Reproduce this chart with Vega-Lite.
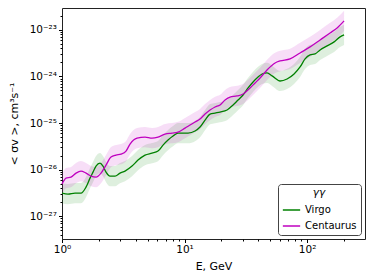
{
  "$schema": "https://vega.github.io/schema/vega-lite/v6.json",
  "width": 303,
  "height": 231,
  "autosize": {"type": "none"},
  "padding": {"left": 62, "top": 8, "right": 9, "bottom": 41},
  "background": "white",
  "config": {
    "font": "DejaVu Sans",
    "view": {"stroke": "#222", "strokeWidth": 1},
    "axis": {
      "grid": false,
      "domain": false,
      "tickColor": "#000",
      "labelColor": "#000",
      "titleColor": "#000",
      "labelFontSize": 10.5,
      "titleFontSize": 11,
      "titleFontWeight": "normal",
      "labelPadding": 2,
      "labelOverlap": false,
      "labelFlush": false
    }
  },
  "data": {
    "values": [
      {"src": "Virgo", "E": 1.000, "s": 3.12e-27, "lo": 1.89e-27, "hi": 5.15e-27},
      {"src": "Virgo", "E": 1.119, "s": 2.97e-27, "lo": 1.80e-27, "hi": 4.90e-27},
      {"src": "Virgo", "E": 1.277, "s": 3.12e-27, "lo": 1.89e-27, "hi": 5.15e-27},
      {"src": "Virgo", "E": 1.429, "s": 3.12e-27, "lo": 1.89e-27, "hi": 5.15e-27},
      {"src": "Virgo", "E": 1.570, "s": 4.21e-27, "lo": 2.55e-27, "hi": 6.95e-27},
      {"src": "Virgo", "E": 1.693, "s": 6.56e-27, "lo": 3.98e-27, "hi": 1.08e-26},
      {"src": "Virgo", "E": 1.791, "s": 8.84e-27, "lo": 5.36e-27, "hi": 1.46e-26},
      {"src": "Virgo", "E": 1.895, "s": 1.19e-26, "lo": 7.21e-27, "hi": 1.96e-26},
      {"src": "Virgo", "E": 2.043, "s": 1.38e-26, "lo": 8.36e-27, "hi": 2.28e-26},
      {"src": "Virgo", "E": 2.161, "s": 1.19e-26, "lo": 7.21e-27, "hi": 1.96e-26},
      {"src": "Virgo", "E": 2.287, "s": 8.84e-27, "lo": 5.36e-27, "hi": 1.46e-26},
      {"src": "Virgo", "E": 2.465, "s": 7.25e-27, "lo": 4.39e-27, "hi": 1.20e-26},
      {"src": "Virgo", "E": 2.708, "s": 7.25e-27, "lo": 4.39e-27, "hi": 1.20e-26},
      {"src": "Virgo", "E": 2.975, "s": 8.41e-27, "lo": 5.10e-27, "hi": 1.39e-26},
      {"src": "Virgo", "E": 3.268, "s": 9.29e-27, "lo": 5.63e-27, "hi": 1.53e-26},
      {"src": "Virgo", "E": 3.728, "s": 1.19e-26, "lo": 7.21e-27, "hi": 1.96e-26},
      {"src": "Virgo", "E": 4.173, "s": 1.60e-26, "lo": 9.70e-27, "hi": 2.64e-26},
      {"src": "Virgo", "E": 4.761, "s": 2.05e-26, "lo": 1.24e-26, "hi": 3.38e-26},
      {"src": "Virgo", "E": 5.428, "s": 2.26e-26, "lo": 1.37e-26, "hi": 3.73e-26},
      {"src": "Virgo", "E": 6.076, "s": 2.50e-26, "lo": 1.52e-26, "hi": 4.13e-26},
      {"src": "Virgo", "E": 6.676, "s": 3.36e-26, "lo": 2.04e-26, "hi": 5.54e-26},
      {"src": "Virgo", "E": 7.334, "s": 4.31e-26, "lo": 2.61e-26, "hi": 7.11e-26},
      {"src": "Virgo", "E": 8.056, "s": 5.25e-26, "lo": 3.18e-26, "hi": 8.66e-26},
      {"src": "Virgo", "E": 8.851, "s": 6.09e-26, "lo": 3.69e-26, "hi": 1.00e-25},
      {"src": "Virgo", "E": 9.723, "s": 6.09e-26, "lo": 3.69e-26, "hi": 1.00e-25},
      {"src": "Virgo", "E": 10.68, "s": 6.09e-26, "lo": 3.69e-26, "hi": 1.00e-25},
      {"src": "Virgo", "E": 12.18, "s": 6.73e-26, "lo": 4.08e-26, "hi": 1.11e-25},
      {"src": "Virgo", "E": 13.38, "s": 8.20e-26, "lo": 4.97e-26, "hi": 1.35e-25},
      {"src": "Virgo", "E": 14.70, "s": 1.16e-25, "lo": 7.03e-26, "hi": 1.91e-25},
      {"src": "Virgo", "E": 16.15, "s": 1.56e-25, "lo": 9.45e-26, "hi": 2.57e-25},
      {"src": "Virgo", "E": 17.74, "s": 1.64e-25, "lo": 9.94e-26, "hi": 2.71e-25},
      {"src": "Virgo", "E": 19.49, "s": 1.72e-25, "lo": 1.04e-25, "hi": 2.84e-25},
      {"src": "Virgo", "E": 22.23, "s": 1.90e-25, "lo": 1.15e-25, "hi": 3.14e-25},
      {"src": "Virgo", "E": 24.88, "s": 2.44e-25, "lo": 1.48e-25, "hi": 4.03e-25},
      {"src": "Virgo", "E": 27.34, "s": 3.12e-25, "lo": 1.89e-25, "hi": 5.15e-25},
      {"src": "Virgo", "E": 30.03, "s": 4.00e-25, "lo": 2.42e-25, "hi": 6.60e-25},
      {"src": "Virgo", "E": 33.00, "s": 5.66e-25, "lo": 3.43e-25, "hi": 9.34e-25},
      {"src": "Virgo", "E": 36.24, "s": 7.62e-25, "lo": 4.62e-25, "hi": 1.26e-24},
      {"src": "Virgo", "E": 39.81, "s": 9.76e-25, "lo": 5.92e-25, "hi": 1.61e-24},
      {"src": "Virgo", "E": 42.93, "s": 1.13e-24, "lo": 6.85e-25, "hi": 1.86e-24},
      {"src": "Virgo", "E": 47.16, "s": 1.19e-24, "lo": 7.21e-25, "hi": 1.96e-24},
      {"src": "Virgo", "E": 51.81, "s": 1.03e-24, "lo": 6.24e-25, "hi": 1.70e-24},
      {"src": "Virgo", "E": 60.22, "s": 8.00e-25, "lo": 4.85e-25, "hi": 1.32e-24},
      {"src": "Virgo", "E": 68.66, "s": 8.84e-25, "lo": 5.36e-25, "hi": 1.46e-24},
      {"src": "Virgo", "E": 78.31, "s": 1.13e-24, "lo": 6.85e-25, "hi": 1.86e-24},
      {"src": "Virgo", "E": 87.69, "s": 1.60e-24, "lo": 9.70e-25, "hi": 2.64e-24},
      {"src": "Virgo", "E": 96.32, "s": 2.38e-24, "lo": 1.44e-24, "hi": 3.93e-24},
      {"src": "Virgo", "E": 105.8, "s": 2.90e-24, "lo": 1.76e-24, "hi": 4.79e-24},
      {"src": "Virgo", "E": 116.3, "s": 3.05e-24, "lo": 1.85e-24, "hi": 5.03e-24},
      {"src": "Virgo", "E": 127.7, "s": 3.71e-24, "lo": 2.25e-24, "hi": 6.12e-24},
      {"src": "Virgo", "E": 145.7, "s": 4.53e-24, "lo": 2.75e-24, "hi": 7.47e-24},
      {"src": "Virgo", "E": 166.2, "s": 5.52e-24, "lo": 3.35e-24, "hi": 9.11e-24},
      {"src": "Virgo", "E": 186.0, "s": 7.07e-24, "lo": 4.28e-24, "hi": 1.17e-23},
      {"src": "Virgo", "E": 200.5, "s": 7.80e-24, "lo": 4.73e-24, "hi": 1.29e-23},
      {"src": "Centaurus", "E": 1.000, "s": 4.88e-27, "lo": 2.96e-27, "hi": 8.05e-27},
      {"src": "Centaurus", "E": 1.078, "s": 6.56e-27, "lo": 3.98e-27, "hi": 1.08e-26},
      {"src": "Centaurus", "E": 1.184, "s": 6.90e-27, "lo": 4.18e-27, "hi": 1.14e-26},
      {"src": "Centaurus", "E": 1.301, "s": 8.41e-27, "lo": 5.10e-27, "hi": 1.39e-26},
      {"src": "Centaurus", "E": 1.429, "s": 9.29e-27, "lo": 5.63e-27, "hi": 1.53e-26},
      {"src": "Centaurus", "E": 1.570, "s": 8.41e-27, "lo": 5.10e-27, "hi": 1.39e-26},
      {"src": "Centaurus", "E": 1.725, "s": 7.25e-27, "lo": 4.39e-27, "hi": 1.20e-26},
      {"src": "Centaurus", "E": 1.895, "s": 6.90e-27, "lo": 4.18e-27, "hi": 1.14e-26},
      {"src": "Centaurus", "E": 2.082, "s": 8.41e-27, "lo": 5.10e-27, "hi": 1.39e-26},
      {"src": "Centaurus", "E": 2.287, "s": 1.25e-26, "lo": 7.58e-27, "hi": 2.06e-26},
      {"src": "Centaurus", "E": 2.512, "s": 1.86e-26, "lo": 1.13e-26, "hi": 3.07e-26},
      {"src": "Centaurus", "E": 2.760, "s": 2.05e-26, "lo": 1.24e-26, "hi": 3.38e-26},
      {"src": "Centaurus", "E": 3.031, "s": 2.15e-26, "lo": 1.30e-26, "hi": 3.55e-26},
      {"src": "Centaurus", "E": 3.330, "s": 2.50e-26, "lo": 1.52e-26, "hi": 4.13e-26},
      {"src": "Centaurus", "E": 3.591, "s": 3.53e-26, "lo": 2.14e-26, "hi": 5.82e-26},
      {"src": "Centaurus", "E": 4.096, "s": 4.75e-26, "lo": 2.88e-26, "hi": 7.84e-26},
      {"src": "Centaurus", "E": 4.761, "s": 5.00e-26, "lo": 3.03e-26, "hi": 8.25e-26},
      {"src": "Centaurus", "E": 5.428, "s": 4.75e-26, "lo": 2.88e-26, "hi": 7.84e-26},
      {"src": "Centaurus", "E": 6.076, "s": 5.00e-26, "lo": 3.03e-26, "hi": 8.25e-26},
      {"src": "Centaurus", "E": 6.932, "s": 5.80e-26, "lo": 3.52e-26, "hi": 9.57e-26},
      {"src": "Centaurus", "E": 7.907, "s": 6.09e-26, "lo": 3.69e-26, "hi": 1.00e-25},
      {"src": "Centaurus", "E": 8.851, "s": 6.40e-26, "lo": 3.88e-26, "hi": 1.06e-25},
      {"src": "Centaurus", "E": 10.09, "s": 7.80e-26, "lo": 4.73e-26, "hi": 1.29e-25},
      {"src": "Centaurus", "E": 11.09, "s": 9.06e-26, "lo": 5.49e-26, "hi": 1.49e-25},
      {"src": "Centaurus", "E": 12.18, "s": 1.05e-25, "lo": 6.36e-26, "hi": 1.73e-25},
      {"src": "Centaurus", "E": 13.38, "s": 1.22e-25, "lo": 7.39e-26, "hi": 2.01e-25},
      {"src": "Centaurus", "E": 14.70, "s": 1.56e-25, "lo": 9.45e-26, "hi": 2.57e-25},
      {"src": "Centaurus", "E": 16.15, "s": 1.90e-25, "lo": 1.15e-25, "hi": 3.14e-25},
      {"src": "Centaurus", "E": 17.74, "s": 2.21e-25, "lo": 1.34e-25, "hi": 3.65e-25},
      {"src": "Centaurus", "E": 19.49, "s": 2.44e-25, "lo": 1.48e-25, "hi": 4.03e-25},
      {"src": "Centaurus", "E": 21.41, "s": 3.12e-25, "lo": 1.89e-25, "hi": 5.15e-25},
      {"src": "Centaurus", "E": 23.52, "s": 3.62e-25, "lo": 2.19e-25, "hi": 5.97e-25},
      {"src": "Centaurus", "E": 26.83, "s": 3.81e-25, "lo": 2.31e-25, "hi": 6.29e-25},
      {"src": "Centaurus", "E": 30.03, "s": 4.21e-25, "lo": 2.55e-25, "hi": 6.95e-25},
      {"src": "Centaurus", "E": 34.25, "s": 5.66e-25, "lo": 3.43e-25, "hi": 9.34e-25},
      {"src": "Centaurus", "E": 37.63, "s": 7.25e-25, "lo": 4.39e-25, "hi": 1.20e-24},
      {"src": "Centaurus", "E": 41.34, "s": 9.29e-25, "lo": 5.63e-25, "hi": 1.53e-24},
      {"src": "Centaurus", "E": 47.16, "s": 1.38e-24, "lo": 8.36e-25, "hi": 2.28e-24},
      {"src": "Centaurus", "E": 54.82, "s": 1.95e-24, "lo": 1.18e-24, "hi": 3.22e-24},
      {"src": "Centaurus", "E": 60.22, "s": 2.15e-24, "lo": 1.30e-24, "hi": 3.55e-24},
      {"src": "Centaurus", "E": 72.64, "s": 2.38e-24, "lo": 1.44e-24, "hi": 3.93e-24},
      {"src": "Centaurus", "E": 87.69, "s": 3.20e-24, "lo": 1.94e-24, "hi": 5.28e-24},
      {"src": "Centaurus", "E": 105.8, "s": 4.31e-24, "lo": 2.61e-24, "hi": 7.11e-24},
      {"src": "Centaurus", "E": 127.7, "s": 6.09e-24, "lo": 3.69e-24, "hi": 1.00e-23},
      {"src": "Centaurus", "E": 154.1, "s": 8.61e-24, "lo": 5.22e-24, "hi": 1.42e-23},
      {"src": "Centaurus", "E": 175.8, "s": 1.10e-23, "lo": 6.67e-24, "hi": 1.82e-23},
      {"src": "Centaurus", "E": 200.5, "s": 1.56e-23, "lo": 9.45e-24, "hi": 2.57e-23}
    ]
  },
  "layer": [
    {
      "mark": {"type": "area", "interpolate": "monotone", "fillOpacity": 0.13},
      "encoding": {
        "x": {
          "field": "E", "type": "quantitative",
          "scale": {"type": "log", "domain": [1, 297], "nice": false},
          "axis": {
            "title": "E, GeV",
            "titlePadding": 5,
            "values": [1,2,3,4,5,6,7,8,9,10,20,30,40,50,60,70,80,90,100,200],
            "tickSize": {"condition": {"test": "abs(log(datum.value)/LN10 - round(log(datum.value)/LN10)) < 0.001", "value": 3.5}, "value": 2},
            "labelExpr": "abs(log(datum.value)/LN10 - round(log(datum.value)/LN10)) > 0.001 ? '' : round(log(datum.value)/LN10) == 0 ? '10⁰' : round(log(datum.value)/LN10) == 1 ? '10¹' : '10²'"
          }
        },
        "y": {
          "field": "lo", "type": "quantitative",
          "scale": {"type": "log", "domain": [3.24e-28, 2.95e-23], "nice": false},
          "axis": {
            "title": "< σv >, cm³s⁻¹",
            "titlePadding": 10,
            "values": [4e-28,5e-28,6e-28,7e-28,8e-28,9e-28,1e-27,2e-27,3e-27,4e-27,5e-27,6e-27,7e-27,8e-27,9e-27,1e-26,2e-26,3e-26,4e-26,5e-26,6e-26,7e-26,8e-26,9e-26,1e-25,2e-25,3e-25,4e-25,5e-25,6e-25,7e-25,8e-25,9e-25,1e-24,2e-24,3e-24,4e-24,5e-24,6e-24,7e-24,8e-24,9e-24,1e-23,2e-23],
            "tickSize": {"condition": {"test": "abs(log(datum.value)/LN10 - round(log(datum.value)/LN10)) < 0.001", "value": 3.5}, "value": 2},
            "labelExpr": "abs(log(datum.value)/LN10 - round(log(datum.value)/LN10)) > 0.001 ? '' : round(log(datum.value)/LN10) == -23 ? '10⁻²³' : round(log(datum.value)/LN10) == -24 ? '10⁻²⁴' : round(log(datum.value)/LN10) == -25 ? '10⁻²⁵' : round(log(datum.value)/LN10) == -26 ? '10⁻²⁶' : '10⁻²⁷'"
          }
        },
        "y2": {"field": "hi"},
        "color": {
          "field": "src", "type": "nominal",
          "scale": {"domain": ["Virgo", "Centaurus"], "range": ["#008000", "#bf00bf"]},
          "legend": {
            "title": "γγ",
            "orient": "bottom-right",
            "offset": 4,
            "strokeColor": "#444",
            "cornerRadius": 3,
            "fillColor": "white",
            "padding": 4,
            "titleFontStyle": "italic",
            "titleFontWeight": "normal",
            "titleFontSize": 10.5,
            "titleColor": "#000",
            "titleAnchor": "middle",
            "titlePadding": 2,
            "symbolType": "stroke",
            "symbolSize": 300,
            "symbolStrokeWidth": 1.5,
            "symbolOpacity": 1,
            "labelFontSize": 10,
            "labelColor": "#000",
            "rowPadding": 1
          }
        }
      }
    },
    {
      "mark": {"type": "line", "interpolate": "monotone", "strokeWidth": 1.3},
      "encoding": {
        "x": {"field": "E", "type": "quantitative", "scale": {"type": "log", "domain": [1, 297], "nice": false}},
        "y": {"field": "s", "type": "quantitative", "scale": {"type": "log", "domain": [3.24e-28, 2.95e-23], "nice": false}},
        "color": {
          "field": "src", "type": "nominal",
          "scale": {"domain": ["Virgo", "Centaurus"], "range": ["#008000", "#bf00bf"]},
          "legend": {
            "title": "γγ",
            "orient": "bottom-right",
            "offset": 4,
            "strokeColor": "#444",
            "cornerRadius": 3,
            "fillColor": "white",
            "padding": 4,
            "titleFontStyle": "italic",
            "titleFontWeight": "normal",
            "titleFontSize": 10.5,
            "titleColor": "#000",
            "titleAnchor": "middle",
            "titlePadding": 2,
            "symbolType": "stroke",
            "symbolSize": 300,
            "symbolStrokeWidth": 1.5,
            "symbolOpacity": 1,
            "labelFontSize": 10,
            "labelColor": "#000",
            "rowPadding": 1
          }
        }
      }
    }
  ]
}
